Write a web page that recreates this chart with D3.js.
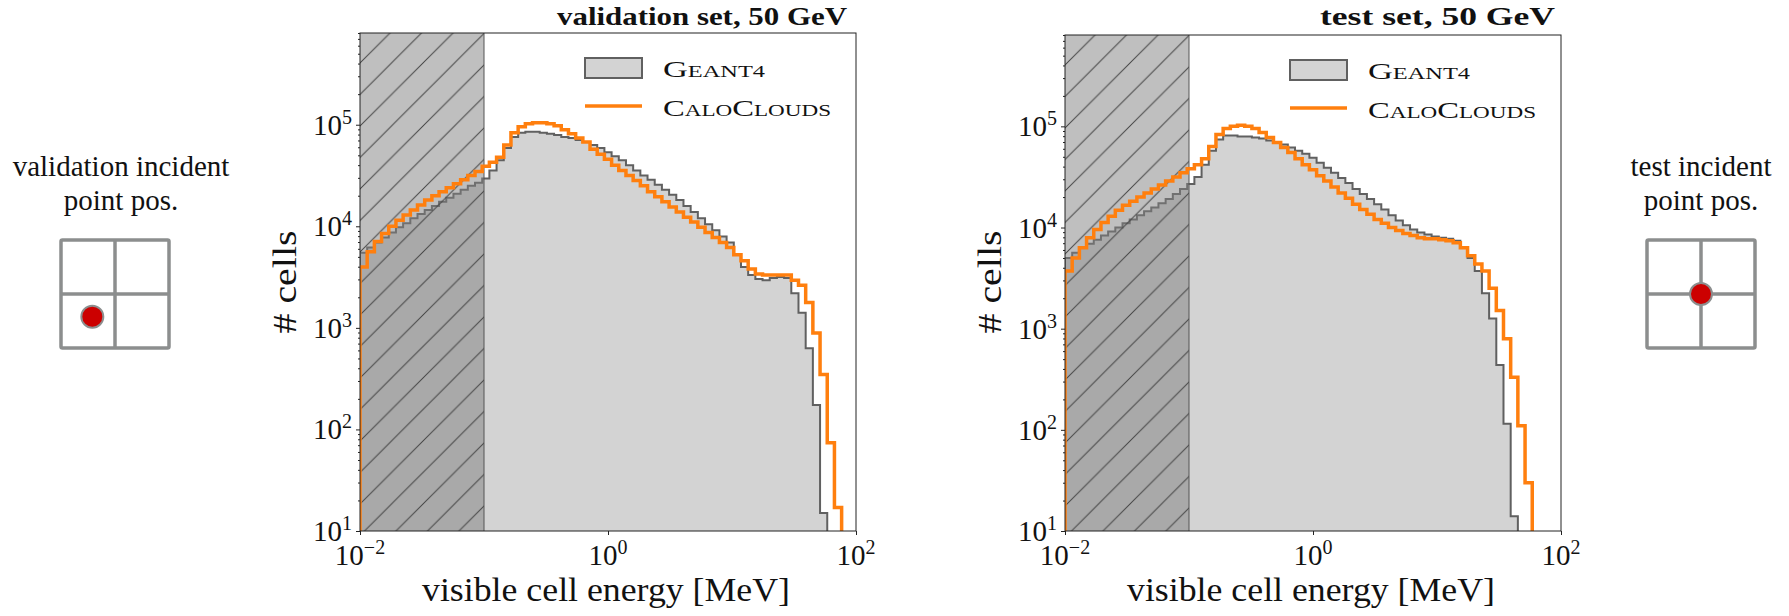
<!DOCTYPE html>
<html>
<head>
<meta charset="utf-8">
<script src="https://cdn.jsdelivr.net/npm/d3@7/dist/d3.min.js"></script>
<style>
  html, body { margin: 0; padding: 0; background: #fff; }
  svg { display: block; }
</style>
</head>
<body>
<svg id="fig" width="1789" height="616"></svg>
<script>
// Histogram binning: 69 log-spaced bins from 0.01 MeV to 100 MeV
const binCount = 69;
const energyRange = [1e-2, 1e2];
const countRange = [10, 8e5];
const thresholdMeV = 0.1;

// Counts per bin, validation set (50 GeV)
const valGeant4 = [5500, 6170, 6920, 7760, 8710, 9770, 10700, 12000, 13200, 14500,
  15800, 17400, 19100, 20900, 22900, 25100, 26900, 29500, 35500, 44700,
  58900, 75900, 83200, 85100, 85100, 83200, 81300, 79400, 75900, 74100,
  70800, 67600, 63100, 58900, 53700, 49000, 44700, 39800, 35500, 31600,
  28800, 25700, 22900, 20400, 18200, 15800, 13800, 12000, 10500, 9120,
  7940, 6920, 5250, 3980, 3310, 3020, 2950, 3090, 3160, 3090,
  2190, 1410, 631, 174, 15, 0, 0, 0, 0];
const valCaloClouds = [3980, 5620, 7080, 8510, 10000, 11500, 12900, 14500, 16200, 18200,
  20000, 21900, 24000, 26300, 28800, 31600, 34700, 38900, 42700, 47900,
  63100, 83200, 95500, 102300, 104700, 104700, 102300, 97700, 89100, 81300,
  74100, 67600, 57500, 51300, 45700, 39800, 35500, 31600, 28200, 25100,
  21900, 19500, 17400, 15500, 13800, 12300, 11000, 9770, 8710, 7760,
  6920, 6170, 5250, 4570, 3800, 3390, 3310, 3310, 3310, 3310,
  2950, 2630, 1780, 891, 347, 74, 17, 0, 0];

// Counts per bin, test set (50 GeV)
const testGeant4 = [5010, 5620, 6310, 6920, 7590, 8320, 9120, 10000, 11000, 12000,
  13200, 14500, 15800, 17400, 19100, 21400, 24000, 26900, 31600, 41700,
  57500, 74100, 81300, 81300, 79400, 79400, 77600, 75900, 72400, 69200,
  66100, 61700, 57500, 53700, 49000, 43700, 38900, 34700, 30900, 27500,
  24000, 21400, 19100, 17000, 15100, 13200, 11700, 10500, 9550, 8910,
  8510, 8130, 7940, 7760, 7410, 6310, 5010, 3720, 2240, 1260,
  437, 115, 14, 0, 0, 0, 0, 0, 0];
const testCaloClouds = [3720, 5010, 6310, 7940, 9550, 11200, 12900, 14800, 16600, 18200,
  20000, 21900, 24000, 26300, 28800, 31600, 34700, 38000, 41700, 47900,
  63100, 83200, 95500, 100000, 102300, 100000, 95500, 87100, 77600, 69200,
  61700, 55000, 47900, 41700, 37200, 32400, 28800, 25100, 21900, 19500,
  17000, 15100, 13500, 12000, 11000, 10000, 9330, 8710, 8320, 7940,
  7760, 7760, 7590, 7410, 7080, 6310, 5250, 4370, 3720, 2510,
  1510, 794, 331, 110, 30, 0, 0, 0, 0];

// Axis ticks
const xTickValues = [1e-2, 1e0, 1e2];
const xTickExponents = ["\u22122", "0", "2"];
const yTickValues = [1e1, 1e2, 1e3, 1e4, 1e5];
const yTickExponents = ["1", "2", "3", "4", "5"];

// Text
const legendNames = [["G", "EANT4"], ["C", "ALO", "C", "LOUDS"]];
const xLabel = "visible cell energy [MeV]";
const yLabel = "# cells";

const serif = "'Liberation Serif', 'Times New Roman', serif";
const COL_FILL = "#d3d3d3", COL_EDGE = "#606060", COL_CALO = "#ff7f0e", INK = "#111";

const svg = d3.select("#fig");
const defs = svg.append("defs");

const binEdges = d3.range(binCount + 1).map(i =>
  Math.pow(10, Math.log10(energyRange[0]) + (Math.log10(energyRange[1]) - Math.log10(energyRange[0])) * i / binCount));

const panels = [
  { id: "val", title: "validation set, 50 GeV", geant: valGeant4, calo: valCaloClouds,
    left: 360, top: 33, titleStart: 557, titleWidth: 290 },
  { id: "test", title: "test set, 50 GeV", geant: testGeant4, calo: testCaloClouds,
    left: 1065, top: 35, titleStart: 1320, titleWidth: 235 }
];
const plotW = 496, bottom = 531;

panels.forEach(p => {
  const x = d3.scaleLog().domain(energyRange).range([p.left, p.left + plotW]);
  const y = d3.scaleLog().domain(countRange).range([bottom, p.top]);
  const below = bottom + 40;
  const yv = v => v > 0 ? y(v) : below;

  const g = svg.append("g");

  defs.append("clipPath").attr("id", "clip-" + p.id)
    .append("rect").attr("x", p.left).attr("y", p.top)
    .attr("width", plotW).attr("height", bottom - p.top);

  // diagonal hatch for the region below threshold
  const hatchOffset = (p.left + 30 + p.top) % 31.5;
  const pat = defs.append("pattern").attr("id", "hatch-" + p.id)
    .attr("patternUnits", "userSpaceOnUse").attr("width", 31.5).attr("height", 31.5)
    .attr("patternTransform", `translate(${hatchOffset},0)`);
  pat.append("path").attr("d", "M-2,33.5 L33.5,-2 M-4,4 L4,-4 M27.5,35.5 L35.5,27.5")
    .attr("stroke", "#444").attr("stroke-width", 1).attr("fill", "none");

  const step = vals => {
    const pts = [[x(binEdges[0]), below]];
    vals.forEach((v, i) => {
      pts.push([x(binEdges[i]), yv(v)]);
      pts.push([x(binEdges[i + 1]), yv(v)]);
    });
    pts.push([x(binEdges[vals.length]), below]);
    return pts;
  };
  const line = d3.line();

  const plot = g.append("g").attr("clip-path", `url(#clip-${p.id})`);

  // Geant4: filled step histogram
  plot.append("path").attr("d", line(step(p.geant)) + "Z")
    .attr("fill", COL_FILL).attr("stroke", COL_EDGE).attr("stroke-width", 2)
    .attr("stroke-linejoin", "miter");

  // shaded region below the cell threshold
  const hx0 = x(energyRange[0]), hx1 = x(thresholdMeV);
  plot.append("rect").attr("x", hx0).attr("y", p.top).attr("width", hx1 - hx0)
    .attr("height", bottom - p.top).attr("fill", "rgba(128,128,128,0.5)");
  plot.append("rect").attr("x", hx0).attr("y", p.top).attr("width", hx1 - hx0)
    .attr("height", bottom - p.top).attr("fill", `url(#hatch-${p.id})`);
  plot.append("line").attr("x1", hx1).attr("x2", hx1).attr("y1", p.top).attr("y2", bottom)
    .attr("stroke", "#555").attr("stroke-width", 1);

  // CaloClouds: step outline
  plot.append("path").attr("d", line(step(p.calo)))
    .attr("fill", "none").attr("stroke", COL_CALO).attr("stroke-width", 3.5)
    .attr("stroke-linejoin", "miter");

  // spines
  g.append("rect").attr("x", p.left).attr("y", p.top).attr("width", plotW)
    .attr("height", bottom - p.top).attr("fill", "none").attr("stroke", "#222").attr("stroke-width", 1);

  // ticks
  const xAxis = g.append("g").attr("transform", `translate(0,${bottom})`)
    .call(d3.axisBottom(x).tickValues(xTickValues).tickSize(4).tickFormat(""));
  xAxis.select(".domain").remove();
  const minorY = [];
  for (let e = 1; e <= 5; e++) for (let m = 2; m <= 9; m++) {
    const v = m * Math.pow(10, e);
    if (v <= countRange[1]) minorY.push(v);
  }
  const yAxis = g.append("g").attr("transform", `translate(${p.left},0)`)
    .call(d3.axisLeft(y).tickValues(yTickValues).tickSize(4).tickFormat(""));
  yAxis.select(".domain").remove();
  const yMinor = g.append("g").attr("transform", `translate(${p.left},0)`)
    .call(d3.axisLeft(y).tickValues(minorY).tickSize(2).tickFormat(""));
  yMinor.select(".domain").remove();
  g.selectAll(".tick line").attr("stroke", "#222");

  // tick labels with superscript exponents
  xTickValues.forEach((v, i) => {
    const t = g.append("text").attr("x", x(v)).attr("y", bottom + 34)
      .attr("text-anchor", "middle").attr("font-family", serif).attr("font-size", 29).attr("fill", INK);
    t.append("tspan").text("10");
    t.append("tspan").attr("dy", -11).attr("font-size", 20).text(xTickExponents[i]);
  });
  yTickValues.forEach((v, i) => {
    const t = g.append("text").attr("x", p.left - 8).attr("y", y(v) + 10)
      .attr("text-anchor", "end").attr("font-family", serif).attr("font-size", 29).attr("fill", INK);
    t.append("tspan").text("10");
    t.append("tspan").attr("dy", -11).attr("font-size", 20).text(yTickExponents[i]);
  });

  // axis labels
  g.append("text").attr("x", p.left + 62).attr("y", 601)
    .attr("font-family", serif).attr("font-size", 34).attr("fill", INK)
    .attr("textLength", 368).attr("lengthAdjust", "spacingAndGlyphs").text(xLabel);
  g.append("text").attr("transform", `translate(${p.left - 64},282) rotate(-90)`)
    .attr("text-anchor", "middle").attr("font-family", serif).attr("font-size", 34).attr("fill", INK)
    .attr("textLength", 103).attr("lengthAdjust", "spacingAndGlyphs").text(yLabel);

  // title
  g.append("text").attr("x", p.titleStart).attr("y", 25)
    .attr("font-family", serif).attr("font-weight", "bold").attr("font-size", 26).attr("fill", INK)
    .attr("textLength", p.titleWidth).attr("lengthAdjust", "spacingAndGlyphs").text(p.title);

  // legend
  const lg = g.append("g");
  lg.append("rect").attr("x", p.left + 225).attr("y", p.top + 25).attr("width", 57).attr("height", 20)
    .attr("fill", COL_FILL).attr("stroke", COL_EDGE).attr("stroke-width", 2);
  lg.append("line").attr("x1", p.left + 225).attr("x2", p.left + 282)
    .attr("y1", p.top + 73).attr("y2", p.top + 73)
    .attr("stroke", COL_CALO).attr("stroke-width", 3.5);
  const smallCaps = (parts, yPos, width) => {
    const t = lg.append("text").attr("x", p.left + 303).attr("y", yPos)
      .attr("font-family", serif).attr("fill", INK)
      .attr("textLength", width).attr("lengthAdjust", "spacingAndGlyphs");
    parts.forEach((s, k) => t.append("tspan").attr("font-size", k % 2 === 0 ? 24 : 17).text(s));
  };
  smallCaps(legendNames[0], p.top + 44, 102);
  smallCaps(legendNames[1], p.top + 83, 168);
});

// incident point position sketches beside each panel
const sketches = [
  { lines: ["validation incident", "point pos."], cx: 121, box: [61, 240], dot: [0.29, 0.71] },
  { lines: ["test incident", "point pos."], cx: 1701, box: [1647, 240], dot: [0.5, 0.5] }
];
sketches.forEach(s => {
  const g = svg.append("g");
  s.lines.forEach((l, i) => g.append("text").attr("x", s.cx).attr("y", 176 + i * 34)
    .attr("text-anchor", "middle").attr("font-family", serif).attr("font-size", 29)
    .attr("fill", INK).text(l));
  const size = 108, [bx, by] = s.box;
  const cell = d3.scaleLinear().domain([0, 1]).range([0, size]);
  g.append("rect").attr("x", bx).attr("y", by).attr("width", size).attr("height", size)
    .attr("rx", 1.5).attr("fill", "#fff").attr("stroke", "#8c8e8e").attr("stroke-width", 3.5);
  g.append("line").attr("x1", bx + cell(0.5)).attr("x2", bx + cell(0.5)).attr("y1", by).attr("y2", by + size)
    .attr("stroke", "#8c8e8e").attr("stroke-width", 3.5);
  g.append("line").attr("x1", bx).attr("x2", bx + size).attr("y1", by + cell(0.5)).attr("y2", by + cell(0.5))
    .attr("stroke", "#8c8e8e").attr("stroke-width", 3.5);
  g.append("circle").attr("cx", bx + cell(s.dot[0])).attr("cy", by + cell(s.dot[1])).attr("r", 11)
    .attr("fill", "#cc0000").attr("stroke", "#8c8e8e").attr("stroke-width", 2);
});
</script>
</body>
</html>
